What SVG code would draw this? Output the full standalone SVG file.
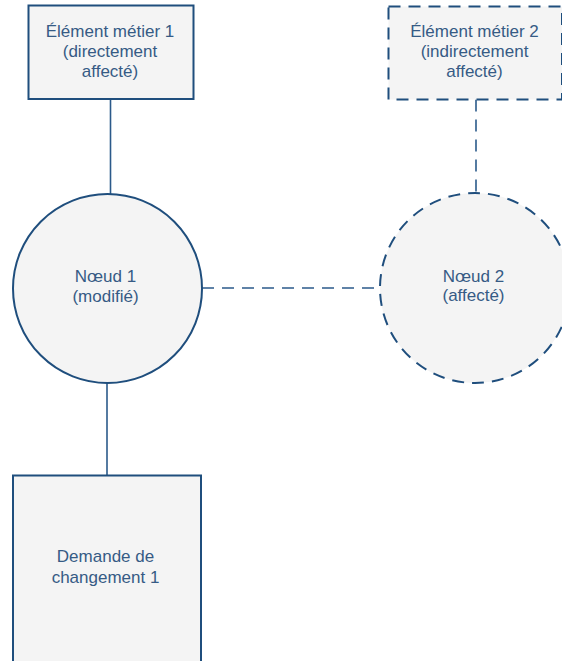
<svg xmlns="http://www.w3.org/2000/svg" width="562" height="661" viewBox="0 0 562 661">
<style>
.shape{fill:#f4f4f4;stroke:#1f4e7d;stroke-width:2}
.dash{stroke-dasharray:12 8}
.conn{fill:none;stroke:#2b5a8a;stroke-width:1.6}
text{font-family:"Liberation Sans",Arial,sans-serif;font-size:17px;fill:#365b85;text-anchor:middle}
</style>
<rect width="562" height="661" fill="#ffffff"/>
<g id="connectors">
<line class="conn" x1="110.5" y1="99" x2="110.5" y2="194.5"/>
<line class="conn" x1="107" y1="383" x2="107" y2="475"/>
<line class="conn dash" x1="202" y1="288" x2="380" y2="288"/>
<line class="conn dash" x1="476" y1="99.5" x2="476" y2="193"/>
</g>
<g id="element1">
<rect class="shape" x="28.5" y="5.5" width="165" height="93.5"/>
<text x="110" y="36.5">Élément métier 1</text>
<text x="110" y="56.5">(directement</text>
<text x="110" y="76.5">affecté)</text>
</g>
<g id="element2">
<rect class="shape dash" x="388.5" y="6.5" width="173.5" height="93"/>
<text x="474.5" y="36.5">Élément métier 2</text>
<text x="474.5" y="56.5">(indirectement</text>
<text x="474.5" y="76.5">affecté)</text>
</g>
<g id="noeud1">
<circle class="shape" cx="107.5" cy="288.5" r="94.5"/>
<text x="105.5" y="281.5">Nœud 1</text>
<text x="105.5" y="301.5">(modifié)</text>
</g>
<g id="noeud2">
<circle class="shape dash" cx="475" cy="288" r="95"/>
<text x="473.5" y="281.5">Nœud 2</text>
<text x="473.5" y="301">(affecté)</text>
</g>
<g id="demande1">
<rect class="shape" x="13" y="475.5" width="188" height="200"/>
<text x="105.5" y="561.5">Demande de</text>
<text x="105.5" y="582.5">changement 1</text>
</g>
</svg>
